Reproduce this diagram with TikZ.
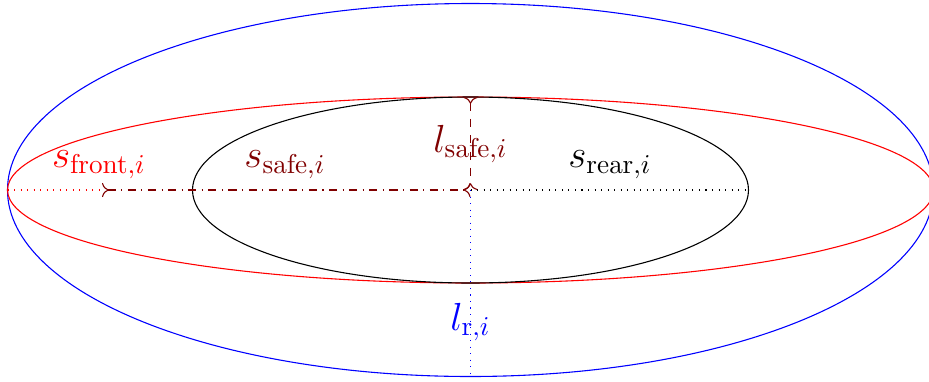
\documentclass[tikz,border=0pt]{standalone}
\usetikzlibrary{arrows.meta}
\definecolor{dred}{rgb}{0.5,0,0}
\begin{document}
\begin{tikzpicture}[x=0.01292cm,y=-0.01292cm,
  lbl/.style={font=\fontsize{13.8}{16}\selectfont, inner sep=1pt},
  tipline/.style={{To[reversed]}-{To[reversed]}}]
\useasboundingbox (0,0) rectangle (929,381);
\coordinate (c) at (470.5,190);
\coordinate (fr) at (7.5,190);
\coordinate (fa) at (102,190);
\coordinate (re) at (748.5,190);
\coordinate (tp) at (470.5,97);
\coordinate (bt) at (470.5,376.5);
\draw[blue] (c) ellipse [x radius=463, y radius=186.5];
\draw[red] (c) ellipse [x radius=463, y radius=93];
\draw[black] (c) ellipse [x radius=278, y radius=93];
\draw[red, dotted] (fr) -- (fa);
\draw[dred, dash dot, tipline] (fa) -- (c);
\draw[black, dotted] (c) -- (re);
\draw[dred, dashed, tipline] (tp) -- (c);
\draw[blue, dotted] (c) -- (bt);
\node[lbl, text=red] (sf) at (99,165) {$s_{\mathrm{front},i}$};
\node[lbl, text=dred] (ss) at (285,165) {$s_{\mathrm{safe},i}$};
\node[lbl, text=dred] (ls) at (470.5,144) {$l_{\mathrm{safe},i}$};
\node[lbl, text=black] (sr) at (610,165) {$s_{\mathrm{rear},i}$};
\node[lbl, text=blue] (lr) at (470.5,322) {$l_{\mathrm{r},i}$};
\end{tikzpicture}
\end{document}
